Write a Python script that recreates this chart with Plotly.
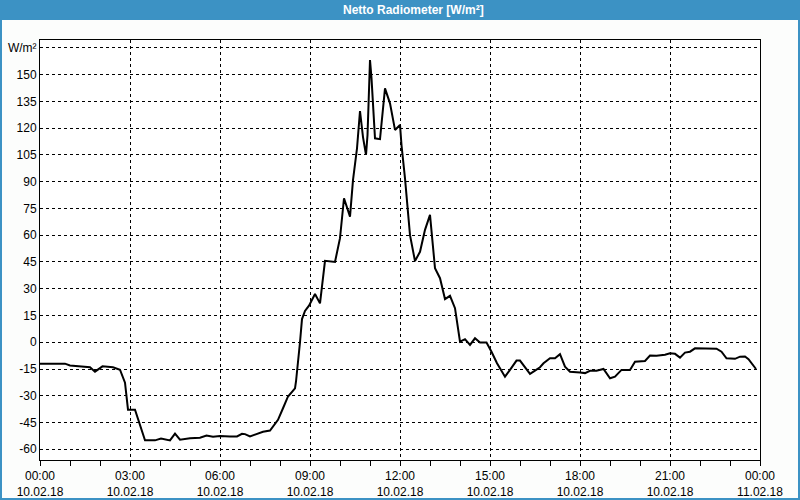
import plotly.graph_objects as go

# ---- data ----
day = "2018-02-10"
times = ["00:00", "00:50", "01:00", "01:20", "01:40", "01:50", "02:05", "02:26", "02:40", "02:50",
         "02:56", "03:10", "03:30", "03:50", "04:02", "04:20", "04:30", "04:40", "05:00", "05:20",
         "05:33", "05:46", "06:00", "06:20", "06:34", "06:44", "06:50", "07:00", "07:14", "07:26",
         "07:40", "07:46", "07:56", "08:06", "08:16", "08:30", "08:32", "08:40", "08:44", "08:50",
         "08:58", "09:10", "09:20", "09:30", "09:50", "10:00", "10:08", "10:20", "10:26", "10:34",
         "10:40", "10:46", "10:52", "10:55", "11:00", "11:03", "11:10", "11:20", "11:30", "11:40",
         "11:50", "12:00", "12:03", "12:10", "12:16", "12:20", "12:30", "12:40", "12:50", "13:00",
         "13:10", "13:20", "13:30", "13:40", "13:50", "14:00", "14:10", "14:20", "14:30", "14:40",
         "14:53", "15:03", "15:14", "15:30", "15:40", "15:53", "16:00", "16:10", "16:20", "16:30",
         "16:40", "16:47", "17:00", "17:10", "17:20", "17:30", "17:40", "18:00", "18:10", "18:20",
         "18:33", "18:47", "19:00", "19:10", "19:23", "19:40", "19:50", "20:10", "20:20", "20:33",
         "20:50", "21:00", "21:10", "21:20", "21:30", "21:40", "21:50", "22:33", "22:43", "22:53",
         "23:10", "23:20", "23:30", "23:37", "23:43", "23:52"]
values = [-12, -12, -13, -13.5, -14, -16.5, -13.5, -14, -15.4, -22.7,
          -37.8, -37.8, -55, -55, -54, -55, -51.2, -54.6, -53.8, -53.5,
          -52.3, -53, -52.6, -52.8, -52.8, -51.3, -51.5, -52.8, -51.5, -50.2,
          -49.5, -47.2, -43.5, -37, -30.4, -25.8, -22, 0, 13, 17.5,
          20.5, 27, 21.8, 45.6, 45, 58.3, 80.7, 70.4, 90.9, 108.7,
          129.6, 115, 105, 116, 158.2, 148, 114.3, 113.8, 142.3, 133.9,
          119, 121.8, 110.5, 91.8, 73.2, 60, 45.5, 50.7, 63, 71.4,
          41.5, 35.9, 24.2, 26, 19.1, 0.3, 1.7, -1.5, 2.2, -0.2,
          -0.2, -5.3, -11.8, -19.3, -15.5, -10.3, -10.3, -13.7, -17.7, -15.9,
          -14, -11.8, -9, -9, -6.7, -13.7, -16.5, -17, -17.3, -16,
          -16, -15, -20.2, -19.3, -15.5, -15.5, -10.9, -10.5, -7.5, -7.6,
          -7, -6.2, -6.5, -8.6, -5.8, -5.3, -3.4, -3.6, -5.3, -9,
          -9.3, -8.1, -8, -9.5, -11.8, -15]
x_ticks = ["2018-02-10 00:00", "2018-02-10 03:00", "2018-02-10 06:00", "2018-02-10 09:00",
           "2018-02-10 12:00", "2018-02-10 15:00", "2018-02-10 18:00", "2018-02-10 21:00",
           "2018-02-11 00:00"]
x_labels = ["00:00<br>10.02.18", "03:00<br>10.02.18", "06:00<br>10.02.18", "09:00<br>10.02.18",
            "12:00<br>10.02.18", "15:00<br>10.02.18", "18:00<br>10.02.18", "21:00<br>10.02.18",
            "00:00<br>11.02.18"]
y_ticks = [-60, -45, -30, -15, 0, 15, 30, 45, 60, 75, 90, 105, 120, 135, 150, 165]
y_labels = [str(v) for v in y_ticks[:-1]] + ["W/m²"]
title = "Netto Radiometer [W/m²]"

x = [f"{day} {t}" for t in times]

W, H = 800, 500
L, R, T, B = 40, 40, 40, 40
pw, ph = W - L - R, H - T - B


def px(xp):
    return (xp - L) / pw


def py(yp):
    return (H - B - yp) / ph


BLUE = "#3c92c4"
font = "Liberation Sans, Arial, sans-serif"

fig = go.Figure()
fig.add_trace(go.Scatter(x=x, y=values, mode="lines",
                         line=dict(color="black", width=2), hoverinfo="skip"))

fig.update_layout(
    width=W, height=H,
    margin=dict(l=L, r=R, t=T, b=B, autoexpand=False),
    paper_bgcolor="#fcfdfc",
    plot_bgcolor="white",
    showlegend=False,
    font=dict(family=font, size=12, color="#000000"),
    shapes=[
        dict(type="rect", xref="paper", yref="paper", x0=px(0), x1=px(W), y0=py(20), y1=py(0),
             fillcolor=BLUE, line=dict(width=0), layer="above"),
        dict(type="rect", xref="paper", yref="paper", x0=px(1), x1=px(W - 1), y0=py(H - 1), y1=py(1),
             fillcolor="rgba(0,0,0,0)", line=dict(color=BLUE, width=2), layer="above"),
    ],
    annotations=[
        dict(text=f"<b>{title}</b>", xref="paper", yref="paper", x=px(413), y=py(10),
             xanchor="center", yanchor="middle", showarrow=False,
             font=dict(family=font, size=12, color="white")),
    ],
)

fig.update_xaxes(
    type="date", automargin=False,
    range=["2018-02-10 00:00", "2018-02-11 00:00"],
    tickvals=x_ticks, ticktext=x_labels,
    ticks="outside", ticklen=5, tickcolor="black", tickwidth=1,
    minor=dict(dtick=3600000, ticks="outside", ticklen=5, tickcolor="black", showgrid=False),
    showgrid=True, gridcolor="black", gridwidth=1, griddash="3px,3px",
    showline=True, linecolor="black", linewidth=1, mirror=True,
    zeroline=False,
    tickfont=dict(family=font, size=12, color="#000000"),
)
fig.update_yaxes(
    automargin=False,
    range=[-66, 169.4],
    tickvals=y_ticks, ticktext=y_labels,
    ticks="",
    showgrid=True, gridcolor="black", gridwidth=1, griddash="3px,3px",
    showline=True, linecolor="black", linewidth=1, mirror=True,
    zeroline=False,
    tickfont=dict(family=font, size=12, color="#000000"),
)

fig.write_html("out.html")
